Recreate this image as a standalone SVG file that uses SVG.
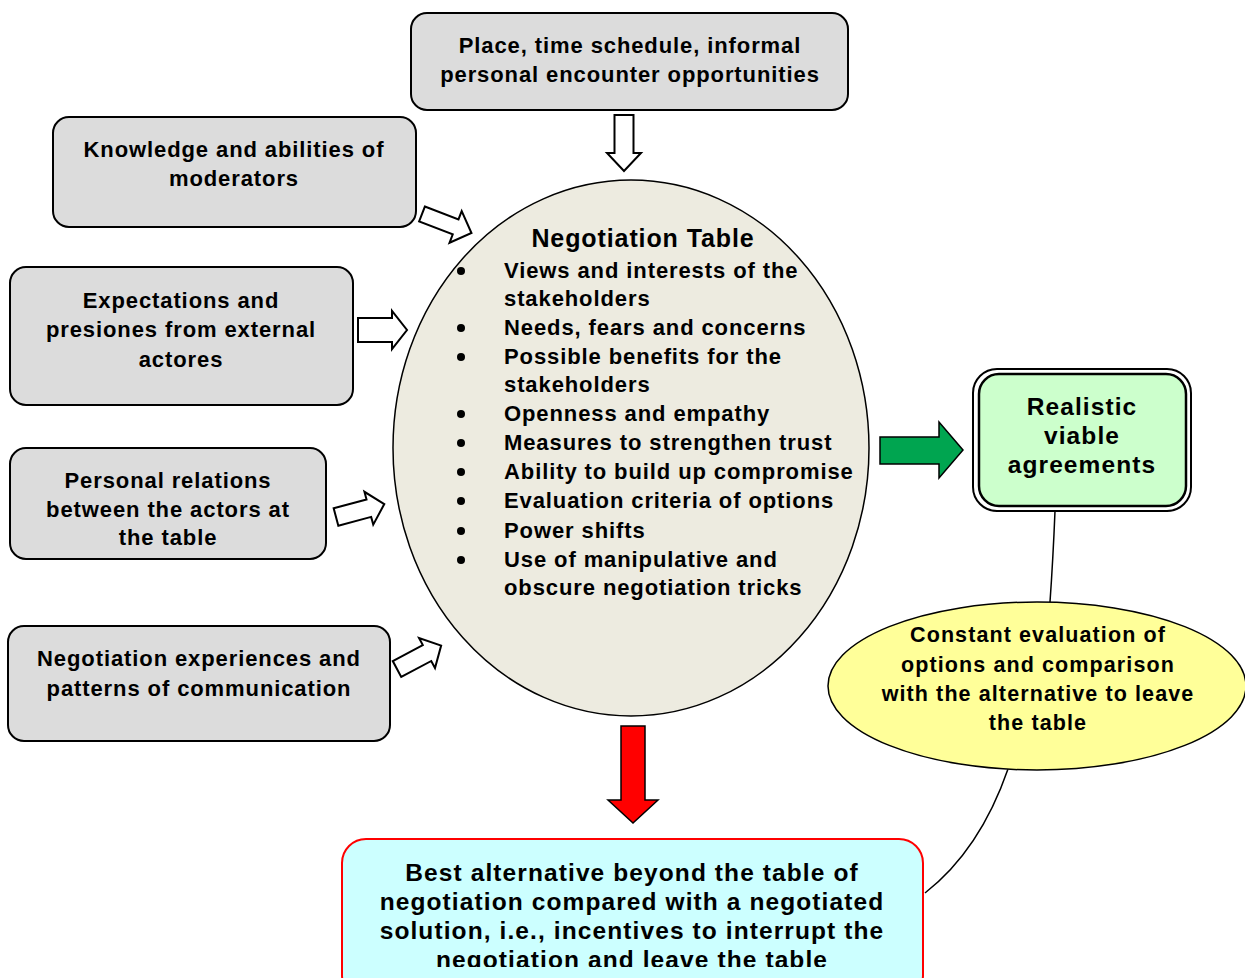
<svg xmlns="http://www.w3.org/2000/svg" width="1245" height="978" viewBox="0 0 1245 978">
<style>
.box{fill:#dcdcdc;stroke:#000;stroke-width:2}
.t{font-family:"Liberation Sans",Arial,sans-serif;font-weight:bold;fill:#000}
.c{text-anchor:middle}
.s{font-size:22px;letter-spacing:0.9px}
.l{font-size:24.5px;letter-spacing:1.1px}
.y{font-size:21.5px;letter-spacing:1.1px}
.hollow{fill:#fff;stroke:#000;stroke-width:2;stroke-linejoin:miter}
.conn{fill:none;stroke:#000;stroke-width:1.5}
</style>
<defs>
<clipPath id="clipAlt"><rect x="342" y="839" width="581" height="128"/></clipPath>
</defs>
<rect width="1245" height="978" fill="#fff"/>
<g id="connectors">
<path class="conn" d="M1055,511 Q1053,560 1050,602"/>
<path class="conn" d="M1008,769 Q980,850 925,893"/>
<path class="hollow" d="M0,-9.5 L38,-9.5 L38,-17 L56,0 L38,17 L38,9.5 L0,9.5 Z" transform="translate(624,115) rotate(90)"/>
<path class="hollow" d="M0,-8 L36,-8 L36,-17 L53,0 L36,17 L36,8 L0,8 Z" transform="translate(422,214) rotate(21)"/>
<path class="hollow" d="M0,-12 L34,-12 L34,-19 L49,0 L34,19 L34,12 L0,12 Z" transform="translate(358,330)"/>
<path class="hollow" d="M0,-9 L34,-9 L34,-17 L50,0 L34,17 L34,9 L0,9 Z" transform="translate(336,517) rotate(-15)"/>
<path class="hollow" d="M0,-9 L34,-9 L34,-17 L50,0 L34,17 L34,9 L0,9 Z" transform="translate(397,669) rotate(-28)"/>
<path d="M880,437 L939,437 L939,422 L963,450 L939,478 L939,464 L880,464 Z" fill="#00a550" stroke="#000" stroke-width="1.5"/>
<path d="M621,726 L645,726 L645,800 L658,800 L633,823 L608,800 L621,800 Z" fill="#ff0000" stroke="#000" stroke-width="1.5"/>
</g>
<g id="place">
<rect class="box" x="411" y="13" width="437" height="97" rx="16"/>
<text class="t c s" x="630" y="53">Place, time schedule, informal</text>
<text class="t c s" x="630" y="82">personal encounter opportunities</text>
</g>
<g id="knowledge">
<rect class="box" x="53" y="117" width="363" height="110" rx="16"/>
<text class="t c s" x="234" y="157">Knowledge and abilities of</text>
<text class="t c s" x="234" y="186">moderators</text>
</g>
<g id="expectations">
<rect class="box" x="10" y="267" width="343" height="138" rx="16"/>
<text class="t c s" x="181" y="308">Expectations and</text>
<text class="t c s" x="181" y="337">presiones from external</text>
<text class="t c s" x="181" y="367">actores</text>
</g>
<g id="personal">
<rect class="box" x="10" y="448" width="316" height="111" rx="16"/>
<text class="t c s" x="168" y="488">Personal relations</text>
<text class="t c s" x="168" y="517">between the actors at</text>
<text class="t c s" x="168" y="545">the table</text>
</g>
<g id="experiences">
<rect class="box" x="8" y="626" width="382" height="115" rx="16"/>
<text class="t c s" x="199" y="666">Negotiation experiences and</text>
<text class="t c s" x="199" y="696">patterns of communication</text>
</g>
<g id="table">
<ellipse cx="631" cy="448" rx="238" ry="268" fill="#edebe0" stroke="#000" stroke-width="1.5"/>
<text class="t c" font-size="25" letter-spacing="0.9" x="643" y="247">Negotiation Table</text>
<g class="t s">
<text x="504" y="278">Views and interests of the</text>
<text x="504" y="306">stakeholders</text>
<text x="504" y="335">Needs, fears and concerns</text>
<text x="504" y="364">Possible benefits for the</text>
<text x="504" y="392">stakeholders</text>
<text x="504" y="421">Openness and empathy</text>
<text x="504" y="450">Measures to strengthen trust</text>
<text x="504" y="479">Ability to build up compromise</text>
<text x="504" y="508">Evaluation criteria of options</text>
<text x="504" y="538">Power shifts</text>
<text x="504" y="567">Use of manipulative and</text>
<text x="504" y="595">obscure negotiation tricks</text>
</g>
<g fill="#000">
<circle cx="461" cy="271" r="4"/>
<circle cx="461" cy="328" r="4"/>
<circle cx="461" cy="357" r="4"/>
<circle cx="461" cy="414" r="4"/>
<circle cx="461" cy="443" r="4"/>
<circle cx="461" cy="472" r="4"/>
<circle cx="461" cy="501" r="4"/>
<circle cx="461" cy="531" r="4"/>
<circle cx="461" cy="560" r="4"/>
</g>
</g>
<g id="agreements">
<rect x="973" y="369" width="218" height="142" rx="24" fill="#fff" stroke="#000" stroke-width="2"/>
<rect x="979" y="374" width="207" height="132" rx="20" fill="#ccffcc" stroke="#000" stroke-width="2.5"/>
<text class="t c l" x="1082" y="415">Realistic</text>
<text class="t c l" x="1082" y="444">viable</text>
<text class="t c l" x="1082" y="473">agreements</text>
</g>
<g id="evaluation">
<ellipse cx="1037" cy="686" rx="209" ry="84" fill="#ffff99" stroke="#000" stroke-width="1.5"/>
<text class="t c y" x="1038" y="642">Constant evaluation of</text>
<text class="t c y" x="1038" y="672">options and comparison</text>
<text class="t c y" x="1038" y="701">with the alternative to leave</text>
<text class="t c y" x="1038" y="730">the table</text>
</g>
<g id="alternative">
<rect x="342" y="839" width="581" height="160" rx="24" fill="#ccffff" stroke="#ff0000" stroke-width="2"/>
<g clip-path="url(#clipAlt)">
<text class="t c l" x="632" y="881">Best alternative beyond the table of</text>
<text class="t c l" x="632" y="910">negotiation compared with a negotiated</text>
<text class="t c l" x="632" y="939">solution, i.e., incentives to interrupt the</text>
<text class="t c l" x="632" y="968">negotiation and leave the table</text>
</g>
</g>
</svg>
